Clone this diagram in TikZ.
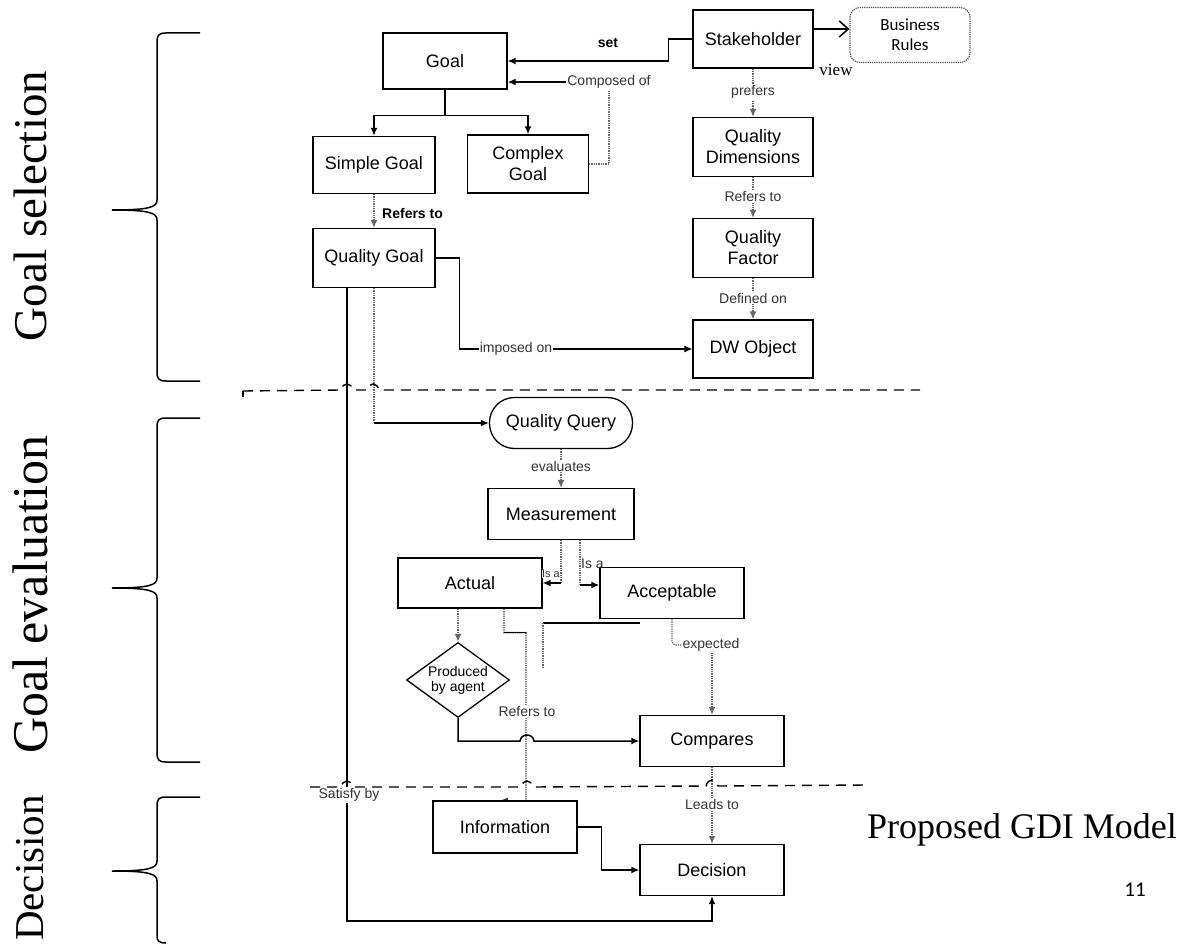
\documentclass[tikz,border=0pt]{standalone}
\usepackage{fontspec}
\setmainfont{Liberation Serif}
\setsansfont{Liberation Sans}
\newfontfamily\calibfont{Carlito}
\usetikzlibrary{shapes.geometric,arrows.meta,calc}
\pgfdeclarelayer{bg}
\pgfsetlayers{bg,main}
\begin{document}
\begin{tikzpicture}[x=1pt,y=-1pt,
  nbox/.style={draw=black, line width=1.3pt, fill=white, inner sep=0pt,
    minimum width=144pt, minimum height=51pt, align=center,
    font=\sffamily\fontsize{18}{21}\selectfont},
  lbl/.style={font=\sffamily\fontsize{14}{16}\selectfont, text=black!80, fill=white, inner sep=1pt},
  blbl/.style={font=\sffamily\bfseries\fontsize{14}{16}\selectfont, inner sep=1pt},
  sline/.style={draw=black, line width=1.5pt},
  dline/.style={draw=black!60, line width=1.3pt, densely dotted},
  arr/.style={-{Latex[length=8pt,width=7pt]}},
  divider/.style={draw=black, line width=1.4pt, dash pattern=on 10pt off 7pt},
  sidetext/.style={rotate=90, inner sep=0pt},
  bracepath/.style={draw=black, line width=1.5pt}
]
\useasboundingbox (0,0) rectangle (1187,944);

% ---------- boxes ----------
\node[nbox, minimum width=124pt, minimum height=56pt] (goal) at (445,61) {Goal};
\node[nbox, minimum width=120pt, minimum height=58pt] (stake) at (753,39) {Stakeholder};
\node[draw=black!70, densely dotted, line width=1.2pt, rounded corners=10pt,
      minimum width=120pt, minimum height=55pt, inner sep=0pt, align=center,
      font=\calibfont\fontsize{17}{20}\selectfont] (rules) at (910,35) {Business\\Rules};
\node[nbox, minimum width=122pt, minimum height=57pt] (simple) at (374,165) {Simple Goal};
\node[nbox, minimum width=121pt, minimum height=58pt] (complex) at (528,164) {Complex\\Goal};
\node[nbox, minimum width=120pt, minimum height=59pt] (qdim) at (753,147) {Quality\\Dimensions};
\node[nbox, minimum width=120pt, minimum height=59pt] (qfac) at (753,248) {Quality\\Factor};
\node[nbox, minimum width=120pt, minimum height=58pt] (dwo) at (753,349) {DW Object};
\node[nbox, minimum width=122pt, minimum height=59pt] (qgoal) at (374,258) {Quality Goal};
\node[nbox, rounded corners=25pt, minimum width=143pt, minimum height=51pt] (qquery) at (561,423) {Quality Query};
\node[nbox, minimum width=146pt, minimum height=51pt] (measure) at (561,514) {Measurement};
\node[nbox, minimum width=144pt, minimum height=50pt] (actual) at (470,583) {Actual};
\node[nbox, minimum width=144pt, minimum height=51pt] (accept) at (672,593) {Acceptable};
\node[draw=black, fill=white, diamond, aspect=1.37, minimum width=103pt, minimum height=75pt,
      inner sep=0pt, line width=1.3pt, align=center,
      font=\sffamily\fontsize{14}{15}\selectfont] (agent) at (458,680) {Produced\\by agent};
\node[nbox] (compares) at (712,741) {Compares};
\node[nbox, minimum height=52pt] (info) at (505,827) {Information};
\node[nbox] (decision) at (712,870) {Decision};

% ---------- connector labels ----------
\node[blbl] (lset) at (608,43) {set};
\node[lbl] (lcomp) at (609,82) {Composed of};
\node[blbl, anchor=west] (lref1) at (381,213) {Refers to};
\node[lbl] (lpref) at (753,92) {prefers};
\node[lbl] (lref2) at (753,197) {Refers to};
\node[lbl] (ldef) at (753,298) {Defined on};
\node[lbl] (limp) at (516,349) {imposed on};
\node[font=\fontsize{17}{20}\selectfont, inner sep=0pt] (lview) at (836,70) {view};
\node[lbl] (leval) at (561,466) {evaluates};
\node[lbl, font=\sffamily\fontsize{11}{12}\selectfont, inner sep=0.5pt] (lisa1) at (551,574) {Is a};
\node[font=\sffamily\fontsize{14}{16}\selectfont, text=black!80, anchor=west, inner sep=0pt] (lisa2) at (581,564) {Is a};
\node[lbl] (lexp) at (711,645) {expected};
\node[lbl] (lref3) at (527,711) {Refers to};
\node[lbl] (lsat) at (349,795) {Satisfy by};
\node[lbl] (llead) at (712,804) {Leads to};

% ---------- connectors ----------
\begin{pgfonlayer}{bg}
\fill[white] (0,0) rectangle (1187,944);

% Stakeholder sets Goal, views Business Rules
\draw[sline, arr] (stake.west) -- ++(-24,0) |- (goal.east);
\draw[sline, -{Straight Barb[length=9pt,width=16pt]}] ([yshift=10pt]stake.east) -- ([yshift=10pt]stake.east -| rules.west);

% Goal is composed of Complex Goal
\draw[dline] (complex.east) -| (lcomp);
\draw[sline, arr] (lcomp.west) -- (lcomp.west -| goal.east);

% Goal splits into Simple and Complex Goal
\draw[sline, arr] (goal.south) -- ++(0,26) -| (simple.north);
\draw[sline, arr] (goal.south) -- ++(0,26) -| (complex.north);

% Simple Goal refers to Quality Goal
\draw[dline, arr] (simple.south) -- (qgoal.north);

% right column
\draw[dline, arr] (stake.south) -- (qdim.north);
\draw[dline, arr] (qdim.south) -- (qfac.north);
\draw[dline, arr] (qfac.south) -- (dwo.north);

% Quality Goal imposed on DW Object
\draw[sline, line width=1.2pt, arr] (qgoal.east) -- ++(24,0) |- (dwo.west);

% Quality Goal to Quality Query
\draw[dline] (qgoal.south) -- (qgoal.south |- qquery.west);
\draw[sline, arr] (qgoal.south |- qquery.west) -- (qquery.west);

% Quality Goal satisfied by Decision
\draw[sline, arr] ([xshift=-27pt]qgoal.south) -- ++(0,633) -| (decision.south);

% Quality Query evaluates Measurement
\draw[dline, arr] (qquery.south) -- (measure.north);

% Measurement is an Actual / Acceptable
\draw[dline] (measure.south) -- (measure.south |- actual.east);
\draw[sline, arr] (measure.south |- actual.east) -- (actual.east);
\coordinate (accin) at ([yshift=8pt]accept.west);
\draw[dline] ([xshift=19pt]measure.south) -- ([xshift=19pt]measure.south |- accin);
\draw[sline, arr] ([xshift=19pt]measure.south |- accin) -- (accin);

% Actual produced by agent
\draw[dline, arr] (actual.south -| agent.north) -- (agent.north);

% Actual refers to Information
\draw[dline, line width=1.4pt, draw=black!75, arr] ([xshift=34pt]actual.south) -- ++(0,24) -- ++(22,0) -- ++(0,169) -- ([xshift=-5pt]info.north);
\draw[sline] ([xshift=34pt]actual.south) ++(0,24) -- ++(22,0);

% agent result compared
\draw[sline, arr] (agent.south) |- (520,741) .. controls (521,733) and (533,733) .. (534,741) -- (compares.west);

% Acceptable is the expected value
\draw[dline, rounded corners=4pt] (accept.south) |- (lexp.west);
\draw[dline, arr] (lexp.south -| compares.north) -- (compares.north);

% Compares leads to Decision
\draw[dline, arr] (compares.south) -- (decision.north);

% Information feeds Decision
\draw[sline, arr] (info.east) -- ++(24,0) |- (decision.west);

% loose strokes between Actual and Acceptable
\draw[line width=1.5pt] (543,623) -- (640,623);
\draw[dline] (543,623) -- (543,667);
\end{pgfonlayer}

% ---------- phase separators ----------
\draw[divider] (243,391) -- (341,390) .. controls (343,382) and (351,382) .. (353,390)
  -- (367,390) .. controls (369,382) and (377,382) .. (379,390) -- (920,390);
\draw[line width=1.2pt] (243,391) -- (243,397);
\draw[divider] (310,787) -- (341,787) .. controls (343,779) and (351,779) .. (353,787)
  -- (521,787) .. controls (523,779) and (531,779) .. (533,787)
  -- (706,786) .. controls (708,778) and (716,778) .. (718,786) -- (867,785);

% ---------- braces ----------
\draw[bracepath] (200,33) -- (166,33) .. controls (159,33) and (157,35) .. (157,42)
  -- (157,200) .. controls (157,207) and (150,210) .. (112,210)
  .. controls (150,210) and (157,213) .. (157,220)
  -- (157,372) .. controls (157,379) and (159,381) .. (166,381) -- (200,381);
\draw[bracepath] (200,418) -- (166,418) .. controls (159,418) and (157,420) .. (157,427)
  -- (157,578) .. controls (157,585) and (150,588) .. (112,588)
  .. controls (150,588) and (157,591) .. (157,598)
  -- (157,753) .. controls (157,760) and (159,762) .. (166,762) -- (200,762);
\draw[bracepath] (200,797) -- (166,797) .. controls (159,797) and (157,799) .. (157,806)
  -- (157,861) .. controls (157,868) and (150,871) .. (112,871)
  .. controls (150,871) and (157,874) .. (157,881)
  -- (157,936) .. controls (157,941) and (159,943) .. (166,943);

% ---------- phase names ----------
\node[sidetext, font=\fontsize{47}{50}\selectfont] (tsel) at (30,206) {Goal selection};
\node[sidetext, font=\fontsize{50}{53}\selectfont] (teval) at (30,595) {Goal evaluation};
\node[sidetext, font=\fontsize{41}{44}\selectfont] (tdec) at (30,868) {Decision};

% ---------- title and page number ----------
\node[font=\fontsize{36}{40}\selectfont, inner sep=0pt] (title) at (1022,830) {Proposed GDI Model};
\node[font=\calibfont\fontsize{21}{24}\selectfont, inner sep=0pt] (pnum) at (1135,890) {11};
\end{tikzpicture}
\end{document}
